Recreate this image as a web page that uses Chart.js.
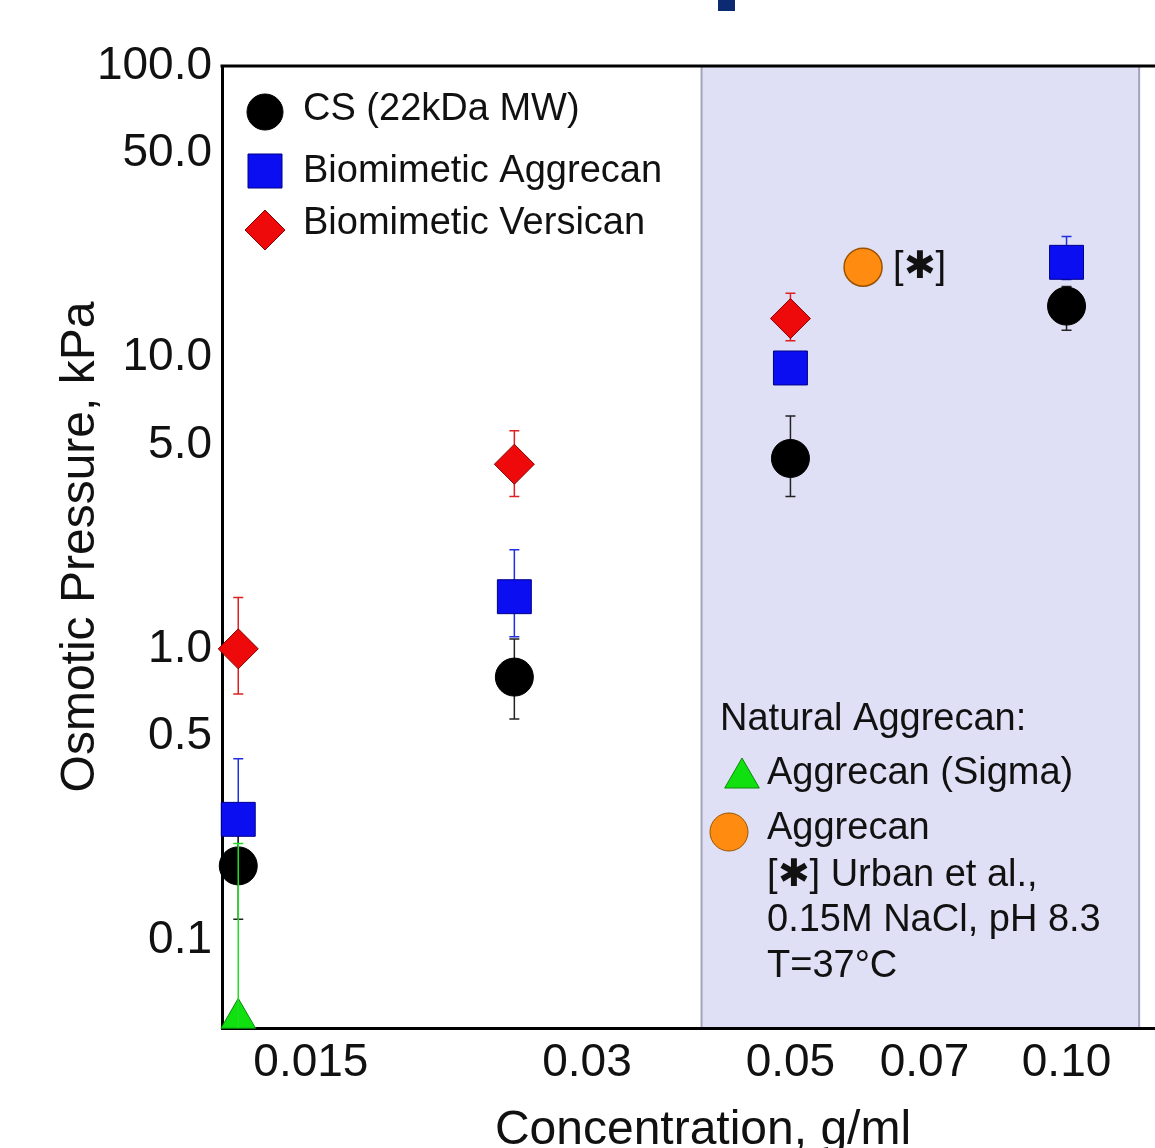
<!DOCTYPE html>
<html>
<head>
<meta charset="utf-8">
<script src="https://cdn.jsdelivr.net/npm/chart.js@4.4.1/dist/chart.umd.min.js"></script>
<style>
  html, body { margin: 0; padding: 0; background: #fff; overflow: hidden; }
  #wrap { position: relative; width: 1184px; height: 1148px; overflow: hidden; }
  #chart { position: absolute; left: 0; top: 0; width: 1184px; height: 1148px; }
  #topMark { position: absolute; left: 718px; top: 0; width: 17px; height: 11px; background: #0b2a72; }
</style>
</head>
<body>
<div id="wrap">
  <canvas id="chart" width="1184" height="1148"></canvas>
  <div id="topMark"></div>
</div>
<script>
// --------------------
// Data
// --------------------
const concCS = [0.0125, 0.025, 0.05, 0.1];
const csMean = [0.18, 0.80, 4.5, 15.0];
const csLow  = [0.118, 0.575, 3.33, 12.4];
const csHigh = [0.23, 1.08, 6.3, 17.5];

const concAgg = [0.0125, 0.025, 0.05, 0.1];
const aggMean = [0.26, 1.51, 9.2, 21.2];
const aggLow  = [0.17, 1.10, 8.5, 18.5];
const aggHigh = [0.42, 2.19, 10.0, 26.0];

const concVer = [0.0125, 0.025, 0.05];
const verMean = [1.0, 4.3, 13.6];
const verLow  = [0.70, 3.33, 11.4];
const verHigh = [1.5, 5.6, 16.6];

const concSigma = [0.0125];
const sigmaMean = [0.054];
const sigmaLow  = [0.01];
const sigmaHigh = [0.215];

const concUrban = [0.06];
const urbanMean = [20.4];

const xTicks = [0.015, 0.03, 0.05, 0.07, 0.1];
const xTickLabels = ["0.015", "0.03", "0.05", "0.07", "0.10"];
const yTicks = [0.1, 0.5, 1, 5, 10, 50, 100];

const shadeRange = [0.04, 0.12]; // natural aggrecan region

const FONT = '"Liberation Sans", Arial, Helvetica, sans-serif';

function pts(xs, ys) {
  return xs.map((x, i) => ({ x: x, y: ys[i] }));
}

// --------------------
// Plugins
// --------------------
const shadePlugin = {
  id: "shade",
  beforeDraw(chart) {
    const { ctx, chartArea, scales } = chart;
    const x0 = scales.x.getPixelForValue(shadeRange[0]);
    const x1 = scales.x.getPixelForValue(shadeRange[1]);
    ctx.save();
    ctx.fillStyle = "#dfe0f5";
    ctx.fillRect(x0, chartArea.top, x1 - x0, chartArea.bottom - chartArea.top);
    ctx.strokeStyle = "#a3a3bb";
    ctx.lineWidth = 2;
    ctx.beginPath();
    ctx.moveTo(x0, chartArea.top); ctx.lineTo(x0, chartArea.bottom);
    ctx.moveTo(x1, chartArea.top); ctx.lineTo(x1, chartArea.bottom);
    ctx.stroke();
    ctx.restore();
  }
};

function drawErrors(chart, onTop) {
  const { ctx, scales } = chart;
  chart.data.datasets.forEach(ds => {
    if (!ds.errLow || !!ds.errorOnTop !== onTop) return;
    ctx.save();
    ctx.strokeStyle = ds.errColor;
    ctx.lineWidth = 1.5;
    ds.data.forEach((p, i) => {
      const x = scales.x.getPixelForValue(p.x);
      const yl = Math.min(scales.y.getPixelForValue(ds.errLow[i]), chart.chartArea.bottom);
      const yh = scales.y.getPixelForValue(ds.errHigh[i]);
      ctx.beginPath();
      ctx.moveTo(x, yl); ctx.lineTo(x, yh);
      ctx.moveTo(x - 5, yh); ctx.lineTo(x + 5, yh);
      if (yl < chart.chartArea.bottom) { ctx.moveTo(x - 5, yl); ctx.lineTo(x + 5, yl); }
      ctx.stroke();
    });
    ctx.restore();
  });
}

const errorPlugin = {
  id: "errorbars",
  beforeDatasetsDraw(chart) { drawErrors(chart, false); },
  afterDatasetsDraw(chart) { drawErrors(chart, true); }
};

function marker(ctx, style, x, y, r, fill, stroke) {
  ctx.save();
  ctx.fillStyle = fill;
  ctx.strokeStyle = stroke;
  ctx.lineWidth = 1;
  ctx.beginPath();
  if (style === "circle") {
    ctx.arc(x, y, r, 0, Math.PI * 2);
  } else if (style === "rect") {
    ctx.rect(x - r, y - r, 2 * r, 2 * r);
  } else if (style === "rectRot") {
    ctx.moveTo(x - r, y); ctx.lineTo(x, y - r); ctx.lineTo(x + r, y); ctx.lineTo(x, y + r);
    ctx.closePath();
  } else if (style === "triangle") {
    ctx.moveTo(x, y - r); ctx.lineTo(x + r * 0.866, y + r / 2); ctx.lineTo(x - r * 0.866, y + r / 2);
    ctx.closePath();
  }
  ctx.fill();
  ctx.stroke();
  ctx.restore();
}

const legendPlugin = {
  id: "legendText",
  afterDraw(chart) {
    const { ctx, chartArea, scales } = chart;
    // top frame line
    ctx.save();
    ctx.strokeStyle = "#000";
    ctx.lineWidth = 3;
    ctx.beginPath();
    ctx.moveTo(chartArea.left - 1.5, chartArea.top);
    ctx.lineTo(chartArea.right, chartArea.top);
    ctx.stroke();
    ctx.restore();

    ctx.save();
    ctx.fillStyle = "#111";
    ctx.textBaseline = "middle";
    ctx.textAlign = "left";
    ctx.font = "38px " + FONT;

    marker(ctx, "circle", 265, 112, 18, "#000", "#000");
    ctx.fillText("CS (22kDa MW)", 303, 110);
    marker(ctx, "rect", 265, 171, 17, "#0a0ef0", "#00008a");
    ctx.fillText("Biomimetic Aggrecan", 303, 172);
    marker(ctx, "rectRot", 265, 230, 20, "#ee0a0a", "#8a0000");
    ctx.fillText("Biomimetic Versican", 303, 224);

    ctx.fillText("Natural Aggrecan:", 720, 720);
    marker(ctx, "triangle", 742, 778, 20, "#10e010", "#0a8a0a");
    ctx.fillText("Aggrecan (Sigma)", 767, 774);
    marker(ctx, "circle", 729, 832, 19, "#ff8c10", "#9a5200");
    ctx.fillText("Aggrecan", 767, 829);
    ctx.fillText("[\u2731] Urban et al.,", 767, 876);
    ctx.fillText("0.15M NaCl, pH 8.3", 767, 921);
    ctx.fillText("T=37\u00B0C", 767, 967);

    // label next to Urban point
    const ux = scales.x.getPixelForValue(concUrban[0]);
    const uy = scales.y.getPixelForValue(urbanMean[0]);
    ctx.fillText("[\u2731]", ux + 30, uy);
    ctx.restore();
  }
};

// --------------------
// Chart
// --------------------
const ctx = document.getElementById("chart").getContext("2d");
new Chart(ctx, {
  type: "scatter",
  data: {
    datasets: [
      {
        label: "Aggrecan (Sigma)", data: pts(concSigma, sigmaMean),
        pointStyle: "triangle", pointRadius: 20, backgroundColor: "#10e010", borderColor: "#0a8a0a", borderWidth: 1,
        errLow: sigmaLow, errHigh: sigmaHigh, errColor: "#22dd22", errorOnTop: true, clip: false
      },
      {
        label: "Biomimetic Versican", data: pts(concVer, verMean),
        pointStyle: "rectRot", pointRadius: 20, backgroundColor: "#ee0a0a", borderColor: "#8a0000", borderWidth: 1,
        errLow: verLow, errHigh: verHigh, errColor: "#dd2020", clip: false
      },
      {
        label: "Biomimetic Aggrecan", data: pts(concAgg, aggMean),
        pointStyle: "rect", pointRadius: 24, backgroundColor: "#0a0ef0", borderColor: "#00008a", borderWidth: 1,
        errLow: aggLow, errHigh: aggHigh, errColor: "#2030e0", clip: false
      },
      {
        label: "CS (22kDa MW)", data: pts(concCS, csMean),
        pointStyle: "circle", pointRadius: 19, backgroundColor: "#000", borderColor: "#000", borderWidth: 1,
        errLow: csLow, errHigh: csHigh, errColor: "#222", clip: false
      },
      {
        label: "Aggrecan (Urban)", data: pts(concUrban, urbanMean),
        pointStyle: "circle", pointRadius: 19, backgroundColor: "#ff8c10", borderColor: "#9a5200", borderWidth: 1.5, clip: false
      }
    ]
  },
  options: {
    responsive: false,
    animation: false,
    events: [],
    layout: { autoPadding: false, padding: { top: 66, left: 0, right: 0, bottom: 0 } },
    plugins: { legend: { display: false }, tooltip: { enabled: false } },
    scales: {
      x: {
        type: "logarithmic",
        min: 0.012,
        max: 0.1343,
        grid: { display: false },
        border: { display: true, color: "#000", width: 3 },
        afterFit: s => { s.height = 120; },
        afterBuildTicks: s => { s.ticks = xTicks.map(v => ({ value: v })); },
        ticks: {
          autoSkip: false, maxRotation: 0, padding: 0, color: "#111",
          font: { family: FONT, size: 46 },
          callback: (v, i) => xTickLabels[i]
        },
        title: {
          display: true, text: "Concentration, g/ml", color: "#111",
          font: { family: FONT, size: 48, lineHeight: 1.0 },
          padding: { top: 0, bottom: -7 }
        }
      },
      y: {
        type: "logarithmic",
        min: 0.05,
        max: 100,
        grid: { display: false },
        border: { display: true, color: "#000", width: 3 },
        afterFit: s => { s.width = 222; },
        afterBuildTicks: s => { s.ticks = yTicks.map(v => ({ value: v })); },
        ticks: {
          autoSkip: false, padding: 2, color: "#111",
          font: { family: FONT, size: 46 },
          callback: v => Number(v).toFixed(1)
        },
        title: {
          display: true, text: "Osmotic Pressure, kPa", color: "#111",
          font: { family: FONT, size: 48, lineHeight: 1.0 },
          padding: { top: 57, bottom: 0 }
        }
      }
    }
  },
  plugins: [shadePlugin, errorPlugin, legendPlugin]
});
</script>
</body>
</html>
